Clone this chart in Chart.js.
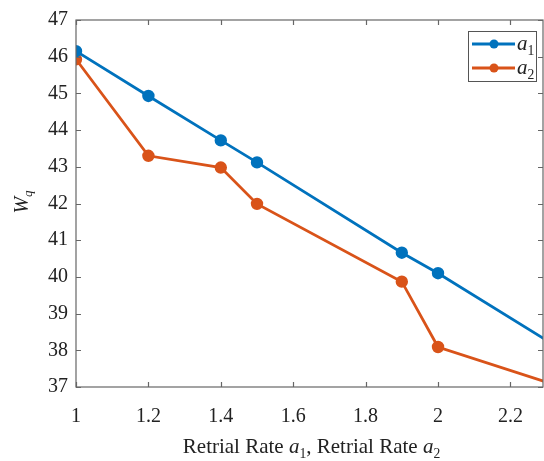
<!DOCTYPE html>
<html>
<head>
<meta charset="utf-8">
<script src="https://cdn.jsdelivr.net/npm/chart.js@4.4.0/dist/chart.umd.min.js"></script>
<style>
  html, body { margin: 0; padding: 0; background: #fff; }
  #wrap { width: 544px; height: 461px; }
</style>
</head>
<body>
<div id="wrap"><canvas id="canvas" width="544" height="461"></canvas></div>
<script>
// data (last point lies past the cropped right edge)
const rates = [1, 1.2, 1.4, 1.5, 1.9, 2.0, 2.5];
const a1Wq = [46.15, 44.93, 43.72, 43.12, 40.66, 40.10, 37.05];
const a2Wq = [45.93, 43.30, 42.98, 41.99, 39.87, 38.09, 36.49];
const seriesNames = ['a1', 'a2'];
const yTicks = [37, 38, 39, 40, 41, 42, 43, 44, 45, 46, 47];
const xTicks = [1, 1.2, 1.4, 1.6, 1.8, 2, 2.2];

const blue = '#0072BD';
const orange = '#D95319';
const axisColor = '#666666';
const serif = '"Liberation Serif", "Times New Roman", serif';

function toPoints(ys) {
  return rates.map((x, i) => ({ x: x, y: ys[i] }));
}

// text with italic letter and subscript, e.g. a + "1"
function drawSubText(ctx, parts, x, y, size) {
  let cx = x;
  parts.forEach(p => {
    const s = p.sub ? size * 0.65 : size;
    ctx.font = (p.italic ? 'italic ' : '') + s + 'px ' + serif;
    ctx.fillText(p.t, cx, y + (p.sub ? size * 0.22 : 0));
    cx += ctx.measureText(p.t).width;
  });
  return cx - x;
}
function measureSubText(ctx, parts, size) {
  let w = 0;
  parts.forEach(p => {
    const s = p.sub ? size * 0.65 : size;
    ctx.font = (p.italic ? 'italic ' : '') + s + 'px ' + serif;
    w += ctx.measureText(p.t).width;
  });
  return w;
}

const matlabBox = {
  id: 'matlabBox',
  afterDraw(chart) {
    const ctx = chart.ctx;
    const a = chart.chartArea;
    const xs = chart.scales.x, ys = chart.scales.y;
    ctx.save();
    ctx.strokeStyle = axisColor;
    ctx.lineWidth = 1.2;
    ctx.strokeRect(a.left, a.top, a.right - a.left, a.bottom - a.top);
    const tl = 5;
    ctx.beginPath();
    xTicks.forEach(v => {
      const px = Math.round(xs.getPixelForValue(v)) + 0.5;
      ctx.moveTo(px, a.bottom); ctx.lineTo(px, a.bottom - tl);
      ctx.moveTo(px, a.top); ctx.lineTo(px, a.top + tl);
    });
    yTicks.forEach(v => {
      const py = Math.round(ys.getPixelForValue(v)) + 0.5;
      ctx.moveTo(a.left, py); ctx.lineTo(a.left + tl, py);
      ctx.moveTo(a.right, py); ctx.lineTo(a.right - tl, py);
    });
    ctx.stroke();

    // axis titles
    ctx.fillStyle = '#222';
    ctx.textBaseline = 'alphabetic';
    const xt = [
      { t: 'Retrial Rate ' }, { t: 'a', italic: true }, { t: '1', sub: true },
      { t: ', Retrial Rate ' }, { t: 'a', italic: true }, { t: '2', sub: true }
    ];
    const w = measureSubText(ctx, xt, 21);
    drawSubText(ctx, xt, 311.5 - w / 2, 453, 21);

    ctx.save();
    ctx.translate(28, 202);
    ctx.rotate(-Math.PI / 2);
    const yt = [{ t: 'W', italic: true }, { t: 'q', italic: true, sub: true }];
    const wy = measureSubText(ctx, yt, 20);
    drawSubText(ctx, yt, -wy / 2, 0, 20);
    ctx.restore();

    // legend
    const lx = 468, ly = 31, lw = 68, lh = 50;
    ctx.fillStyle = '#fff';
    ctx.fillRect(lx, ly, lw, lh);
    ctx.strokeStyle = '#555';
    ctx.lineWidth = 1;
    ctx.strokeRect(lx + 0.5, ly + 0.5, lw, lh);
    chart.data.datasets.forEach((ds, i) => {
      const yy = ly + 13 + i * 24;
      ctx.strokeStyle = ds.borderColor;
      ctx.lineWidth = 2.8;
      ctx.beginPath();
      ctx.moveTo(lx + 4, yy); ctx.lineTo(lx + 47, yy);
      ctx.stroke();
      ctx.fillStyle = ds.borderColor;
      ctx.beginPath();
      ctx.arc(lx + 26, yy, 4.5, 0, Math.PI * 2);
      ctx.fill();
      ctx.fillStyle = '#222';
      drawSubText(ctx, [{ t: ds.label[0], italic: true }, { t: ds.label.slice(1), sub: true }], lx + 49, yy + 6, 21);
    });
    ctx.restore();
  }
};

const ctx = document.getElementById('canvas').getContext('2d');
new Chart(ctx, {
  type: 'line',
  data: {
    datasets: [
      { label: seriesNames[0], data: toPoints(a1Wq), borderColor: blue, backgroundColor: blue,
        borderWidth: 2.8, pointRadius: 4.8, pointHoverRadius: 4.8, tension: 0 },
      { label: seriesNames[1], data: toPoints(a2Wq), borderColor: orange, backgroundColor: orange,
        borderWidth: 2.8, pointRadius: 4.8, pointHoverRadius: 4.8, tension: 0 }
    ]
  },
  options: {
    responsive: false,
    animation: false,
    layout: { autoPadding: false, padding: { left: 0, right: 1, top: 19, bottom: 0 } },
    plugins: { legend: { display: false }, tooltip: { enabled: false } },
    scales: {
      x: {
        type: 'linear', min: 1, max: 2.29,
        grid: { display: false, drawTicks: false }, border: { display: false },
        afterFit: s => { s.height = 74; },
        afterBuildTicks: s => { s.ticks = xTicks.map(v => ({ value: v })); },
        ticks: { padding: 18, color: '#222', font: { family: serif, size: 20 },
                 callback: v => String(+v.toFixed(2)) }
      },
      y: {
        min: 37, max: 47,
        grid: { display: false, drawTicks: false }, border: { display: false },
        afterFit: s => { s.width = 76; },
        afterBuildTicks: s => { s.ticks = yTicks.map(v => ({ value: v })); },
        ticks: { padding: 8, color: '#222', font: { family: serif, size: 20 } }
      }
    }
  },
  plugins: [matlabBox]
});
</script>
</body>
</html>
